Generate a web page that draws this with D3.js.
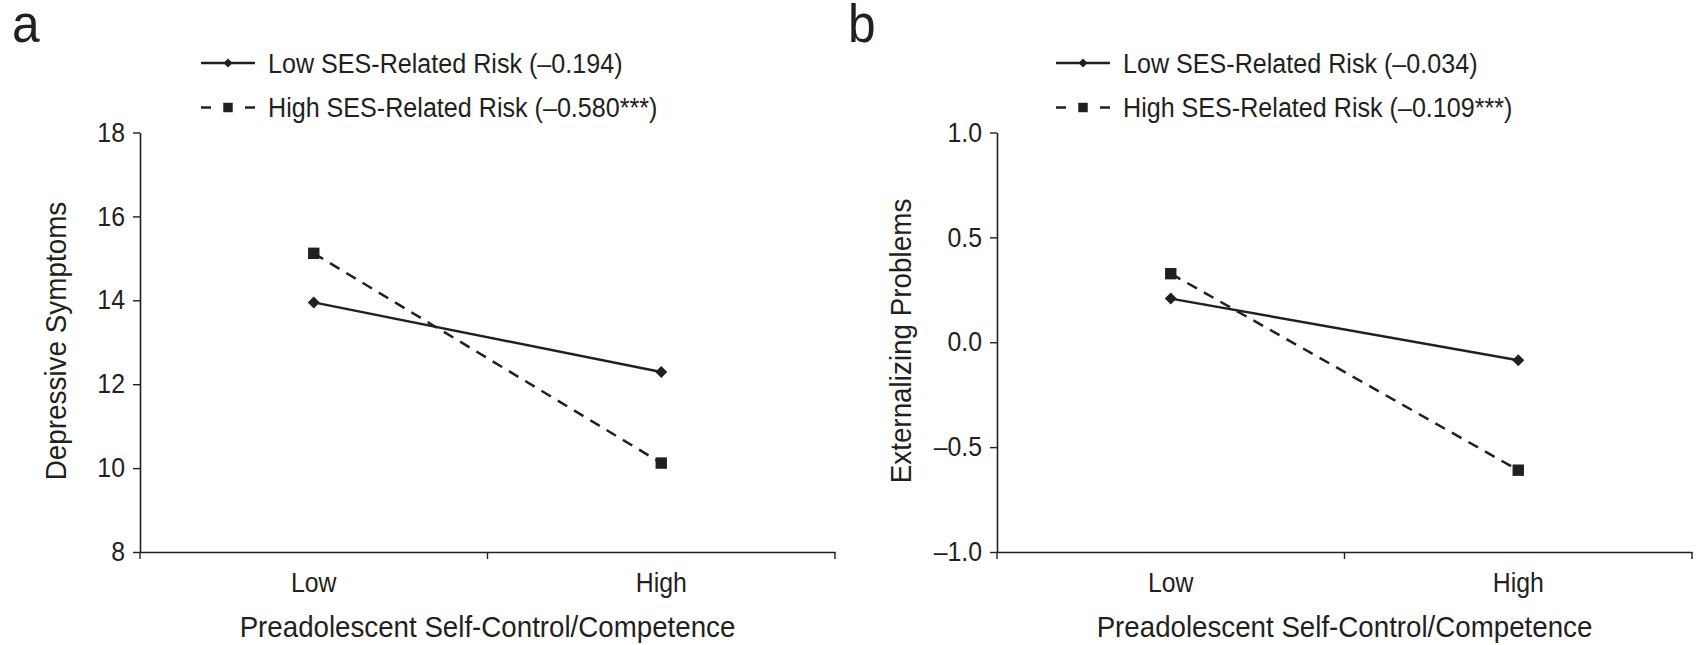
<!DOCTYPE html>
<html><head><meta charset="utf-8">
<script src="https://cdn.jsdelivr.net/npm/d3@7"></script>
<style>
body{margin:0;background:#fff}
text{font-family:"Liberation Sans Narrow","Liberation Sans",Arial,sans-serif;fill:#231f20}
</style>
</head><body><svg id="c" width="1703" height="645"></svg>
<script>
const categories = ["Low","High"];
const panelLetters = ["a","b"];
const yTitles = ["Depressive Symptoms","Externalizing Problems"];
const xTitle = "Preadolescent Self-Control/Competence";
const seriesNames = ["Low SES-Related Risk","High SES-Related Risk"];
const slopesA = ["(–0.194)","(–0.580***)"];
const slopesB = ["(–0.034)","(–0.109***)"];
const lowRiskA = [13.95, 12.29];
const highRiskA = [15.12, 10.12];
const lowRiskB = [0.208, -0.086];
const highRiskB = [0.327, -0.61];
const yTicksA = [8,10,12,14,16,18];
const yTicksB = [-1.0,-0.5,0.0,0.5,1.0];
const yDomainA = [8,18];
const yDomainB = [-1,1];

const ink = "#231f20";
const FONT = '"Liberation Sans Narrow","Liberation Sans",Arial,sans-serif';
const svg = d3.select("#c");

const panels = [
  {letter:panelLetters[0], lx:12, x0:140, domain:yDomainA, ticks:yTicksA, fmt:d3.format("d"),
   ytitle:yTitles[0], ytx:56, series:[lowRiskA, highRiskA], slopes:slopesA, legX:201},
  {letter:panelLetters[1], lx:848, x0:997, domain:yDomainB, ticks:yTicksB, fmt:d=>d3.format(".1f")(d).replace("−","–"),
   ytitle:yTitles[1], ytx:901, series:[lowRiskB, highRiskB], slopes:slopesB, legX:1056}
];

const plotTop = 132.5, plotBottom = 552, plotW = 695;

// condense a text horizontally (the reference uses a condensed face)
function condense(sel, f) {
  sel.each(function() {
    const w = this.getComputedTextLength();
    d3.select(this).attr("textLength", w * f).attr("lengthAdjust", "spacingAndGlyphs");
  });
}

panels.forEach(p => {
  const g = svg.append("g");
  const x = d3.scaleBand().domain(categories).range([p.x0, p.x0 + plotW]);
  const y = d3.scaleLinear().domain(p.domain).range([plotBottom, plotTop]);

  // panel letter
  g.append("text").attr("x", p.lx).attr("y", 42).attr("font-size", 54).text(p.letter)
    .call(condense, 0.92);

  // y axis
  const ya = g.append("g").attr("transform", `translate(${p.x0},0)`)
    .call(d3.axisLeft(y).tickValues(p.ticks).tickFormat(p.fmt).tickSize(7).tickPadding(8).tickSizeOuter(0));
  ya.select(".domain").attr("stroke", ink).attr("stroke-width", 1.6);
  ya.selectAll(".tick line").attr("stroke", ink).attr("stroke-width", 1.4);
  ya.selectAll(".tick text").attr("font-size", 27).attr("fill", ink).style("font-family", FONT)
    .call(condense, 0.92);

  // x axis: labels at category centres, ticks at band boundaries
  const xa = g.append("g").attr("transform", `translate(0,${plotBottom})`)
    .call(d3.axisBottom(x).tickSize(0).tickPadding(0).tickSizeOuter(0));
  xa.select(".domain").attr("stroke", ink).attr("stroke-width", 1.6);
  xa.selectAll(".tick text").attr("font-size", 27).attr("fill", ink).attr("y", 40).attr("dy", 0)
    .style("font-family", FONT).call(condense, 0.92);
  const bounds = categories.map(c => x(c)).concat([x.range()[1]]);
  xa.selectAll("line.bt").data(bounds).join("line").attr("class","bt")
    .attr("x1", d => d).attr("x2", d => d).attr("y1", 0).attr("y2", 7)
    .attr("stroke", ink).attr("stroke-width", 1.4);

  // axis titles
  g.append("text").attr("x", p.x0 + plotW/2).attr("y", 637)
    .attr("text-anchor","middle").attr("font-size", 29).text(xTitle).call(condense, 0.955);
  g.append("text").attr("transform", `translate(${p.ytx},341) rotate(-90)`)
    .attr("text-anchor","middle").attr("dy","0.35em").attr("font-size", 29).text(p.ytitle)
    .call(condense, 0.96);

  // lines
  const line = d3.line().x((d,i) => x(categories[i]) + x.bandwidth()/2).y(d => y(d));
  p.series.forEach((vals, si) => {
    g.append("path").datum(vals).attr("d", line).attr("fill","none").attr("stroke", ink)
      .attr("stroke-width", 2.5).attr("stroke-dasharray", si === 1 ? "11,8" : null);
  });
  // markers
  const diamond = d3.symbol().type(d3.symbolSquare).size(72);
  const square = d3.symbol().type(d3.symbolSquare).size(130);
  p.series.forEach((vals, si) => {
    g.selectAll(null).data(vals).join("path")
      .attr("d", si === 0 ? diamond : square)
      .attr("transform", (d,i) => `translate(${x(categories[i]) + x.bandwidth()/2},${y(d)})${si===0?" rotate(45)":""}`)
      .attr("fill", ink);
  });

  // legend
  const rows = [63, 107.5];
  seriesNames.forEach((name, si) => {
    const ly = rows[si];
    const lg = g.append("g");
    if (si === 0) {
      lg.append("line").attr("x1", p.legX).attr("x2", p.legX + 54).attr("y1", ly).attr("y2", ly)
        .attr("stroke", ink).attr("stroke-width", 2.5);
      lg.append("path").attr("d", d3.symbol().type(d3.symbolSquare).size(40))
        .attr("transform", `translate(${p.legX + 27},${ly}) rotate(45)`).attr("fill", ink);
    } else {
      lg.append("line").attr("x1", p.legX).attr("x2", p.legX + 10).attr("y1", ly).attr("y2", ly)
        .attr("stroke", ink).attr("stroke-width", 2.5);
      lg.append("line").attr("x1", p.legX + 44).attr("x2", p.legX + 54).attr("y1", ly).attr("y2", ly)
        .attr("stroke", ink).attr("stroke-width", 2.5);
      lg.append("path").attr("d", d3.symbol().type(d3.symbolSquare).size(90))
        .attr("transform", `translate(${p.legX + 27},${ly})`).attr("fill", ink);
    }
    lg.append("text").attr("x", p.legX + 67).attr("y", ly + 9.5).attr("font-size", 27)
      .text(`${name} ${p.slopes[si]}`).call(condense, 0.93);
  });
});
</script>
</body></html>
